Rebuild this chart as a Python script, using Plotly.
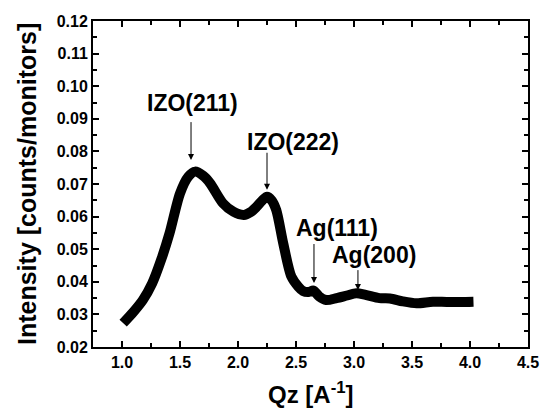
import plotly.graph_objects as go

qz = [1.01, 1.10, 1.18, 1.26, 1.34, 1.41, 1.50, 1.57, 1.63, 1.70, 1.76, 1.87, 1.96, 2.05, 2.11, 2.16, 2.21, 2.25, 2.29, 2.33, 2.39, 2.46, 2.52, 2.56, 2.61, 2.65, 2.70, 2.76, 2.85, 2.94, 3.02, 3.10, 3.22, 3.31, 3.42, 3.54, 3.68, 3.80, 3.92, 4.03]
intensity = [0.0273, 0.0308, 0.0344, 0.0395, 0.0470, 0.0549, 0.0671, 0.0722, 0.0738, 0.0725, 0.0702, 0.0641, 0.0615, 0.0605, 0.0614, 0.0630, 0.0650, 0.0661, 0.0650, 0.0620, 0.0518, 0.0416, 0.0385, 0.0372, 0.0369, 0.0373, 0.0355, 0.0344, 0.0350, 0.0358, 0.0365, 0.0360, 0.0350, 0.0349, 0.0340, 0.0334, 0.0339, 0.0338, 0.0338, 0.0339]

peak_labels = ["IZO(211)", "IZO(222)", "Ag(111)", "Ag(200)"]
label_x = [1.612, 2.474, 2.853, 3.17]
label_y = [0.0948, 0.0829, 0.0565, 0.0482]
arrow_x = [1.595, 2.25, 2.655, 3.034]
arrow_tail_y = [0.0896, 0.0802, 0.0522, 0.0442]
arrow_tip_y = [0.0774, 0.0682, 0.0396, 0.0375]

x_ticks = [1.0, 1.5, 2.0, 2.5, 3.0, 3.5, 4.0, 4.5]
y_ticks = [0.02, 0.03, 0.04, 0.05, 0.06, 0.07, 0.08, 0.09, 0.10, 0.11, 0.12]

FONT = "Liberation Sans, Arial, sans-serif"

fig = go.Figure()
fig.add_trace(go.Scatter(x=qz, y=intensity, mode="lines",
                         line=dict(color="black", width=10, shape="spline", smoothing=0.8),
                         showlegend=False, hoverinfo="skip"))

annotations = []
for t, lx, ly in zip(peak_labels, label_x, label_y):
    annotations.append(dict(x=lx, y=ly, xref="x", yref="y", text="<b>%s</b>" % t,
                            showarrow=False, font=dict(family=FONT, size=23, color="black")))
for axx, ty, hy in zip(arrow_x, arrow_tail_y, arrow_tip_y):
    annotations.append(dict(x=axx, y=hy, ax=axx, ay=ty, xref="x", yref="y", axref="x", ayref="y",
                            text=" ", showarrow=True, arrowhead=2, arrowsize=1.2, arrowwidth=1,
                            arrowcolor="black", font=dict(size=1)))
annotations.append(dict(x=0, y=0.5, xref="paper", yref="paper", xshift=-66, textangle=-90,
                        text="<b>Intensity [counts/monitors]</b>", showarrow=False,
                        xanchor="center", yanchor="middle",
                        font=dict(family=FONT, size=25, color="black")))
annotations.append(dict(x=0.5, y=0, xref="paper", yref="paper", yshift=-46,
                        text="<b>Qz [A<sup>-1</sup>]</b>", showarrow=False,
                        xanchor="center", yanchor="middle",
                        font=dict(family=FONT, size=24, color="black")))

axis_common = dict(
    showline=True, linecolor="black", linewidth=2, mirror="allticks",
    ticks="inside", ticklen=6, tickwidth=2, tickcolor="black",
    showgrid=False, zeroline=False, automargin=False,
    tickfont=dict(family=FONT, size=16, color="black"),
)

fig.update_layout(
    width=540, height=404,
    margin=dict(l=85, r=20, t=13, b=65),
    paper_bgcolor="white", plot_bgcolor="white",
    font=dict(family=FONT, color="black"),
    annotations=annotations,
    xaxis=dict(range=[0.75, 4.5], tickvals=x_ticks,
               ticktext=["<b>%.1f</b>" % v for v in x_ticks],
               minor=dict(tickvals=[0.75, 1.25, 1.75, 2.25, 2.75, 3.25, 3.75, 4.25], ticks="inside", ticklen=4, tickwidth=1.5, tickcolor="black"),
               **axis_common),
    yaxis=dict(range=[0.02, 0.12], tickvals=y_ticks,
               ticktext=["<b>%.2f</b>" % v for v in y_ticks],
               minor=dict(dtick=0.005, ticks="inside", ticklen=4, tickwidth=1.5, tickcolor="black"),
               **axis_common),
)

fig.write_html("out.html")
